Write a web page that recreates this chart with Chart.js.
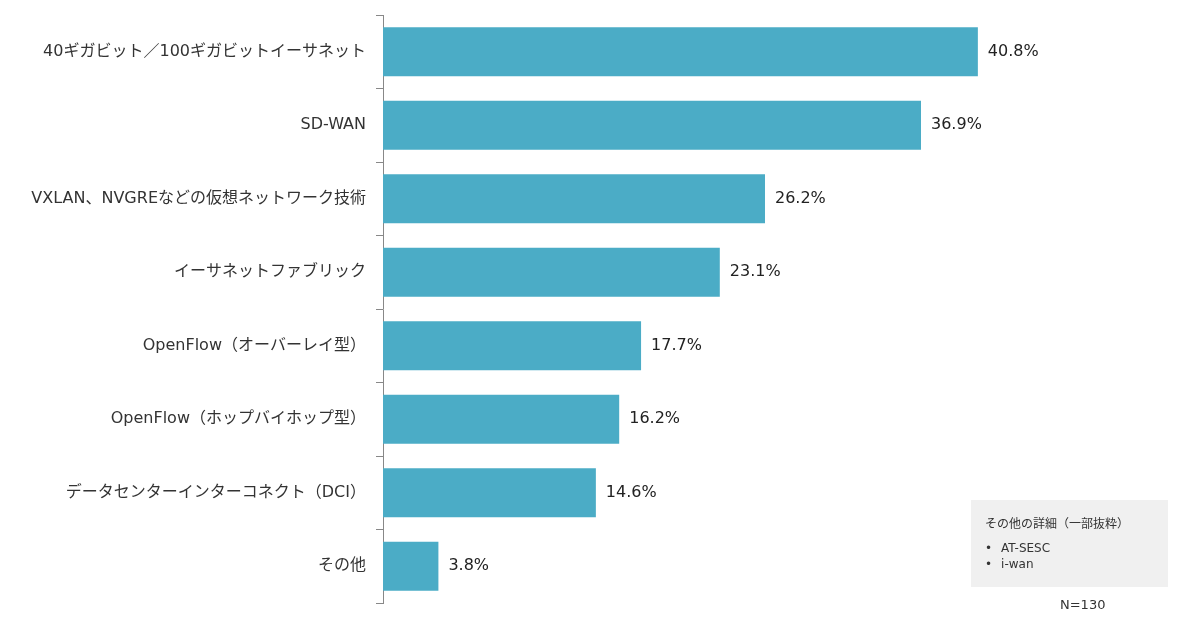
<!DOCTYPE html>
<html lang="ja">
<head>
<meta charset="utf-8">
<script src="https://cdn.jsdelivr.net/npm/chart.js@4.4.1/dist/chart.umd.min.js"></script>
<style>
  html, body { margin: 0; padding: 0; background: #fff; }
  #wrap { position: relative; width: 1200px; height: 632px; font-family: "DejaVu Sans", "Noto Sans CJK JP", sans-serif; color: #333; }
  #note { position: absolute; left: 971px; top: 500px; width: 197px; height: 87px; background: #f0f0f0; font-size: 12px; }
  #note .ttl { position: absolute; left: 14px; top: 14px; }
  #note ul { position: absolute; left: 14px; top: 40px; margin: 0; padding: 0; list-style: none; line-height: 16px; }
  #note li::before { content: "•"; margin-right: 9px; }
  #n { position: absolute; left: 1060px; top: 597px; font-size: 13px; }
</style>
</head>
<body>
<div id="wrap">
  <canvas id="chart" width="1200" height="632"></canvas>
  <div id="note">
    <div class="ttl">その他の詳細（一部抜粋）</div>
    <ul><li>AT-SESC</li><li>i-wan</li></ul>
  </div>
  <div id="n">N=130</div>
</div>
<script>
// 回答項目
const categories = [
  '40ギガビット／100ギガビットイーサネット',
  'SD-WAN',
  'VXLAN、NVGREなどの仮想ネットワーク技術',
  'イーサネットファブリック',
  'OpenFlow（オーバーレイ型）',
  'OpenFlow（ホップバイホップ型）',
  'データセンターインターコネクト（DCI）',
  'その他'
];
// 割合（%）
const values = [40.8, 36.9, 26.2, 23.1, 17.7, 16.2, 14.6, 3.8];

const barColor = '#4bacc6';
const fontFamily = '"DejaVu Sans", "Noto Sans CJK JP", sans-serif';

// バーの右に値ラベルを描く
const valueLabels = {
  id: 'valueLabels',
  afterDatasetsDraw(chart) {
    const ctx = chart.ctx;
    const meta = chart.getDatasetMeta(0);
    ctx.save();
    ctx.font = '16px ' + fontFamily;
    ctx.fillStyle = '#222';
    ctx.textAlign = 'left';
    ctx.textBaseline = 'middle';
    meta.data.forEach((bar, i) => {
      ctx.fillText(values[i].toFixed(1) + '%', bar.x + 10, bar.y);
    });
    ctx.restore();
  }
};

new Chart(document.getElementById('chart'), {
  type: 'bar',
  data: {
    labels: categories,
    datasets: [{
      data: values,
      backgroundColor: barColor,
      borderWidth: 0,
      barPercentage: 0.67,
      categoryPercentage: 1
    }]
  },
  options: {
    indexAxis: 'y',
    responsive: false,
    animation: false,
    layout: { padding: { top: 15, bottom: 29, left: 0, right: 88 } },
    plugins: { legend: { display: false }, tooltip: { enabled: false } },
    scales: {
      x: { display: false, min: 0, max: 50 },
      y: {
        afterFit(axis) {
          axis.width = 383;
          axis.paddingTop = 0;
          axis.paddingBottom = 0;
        },
        grid: { offset: true, drawOnChartArea: false, tickLength: 7, color: '#888' },
        border: { color: '#888', width: 1 },
        ticks: {
          color: '#333',
          padding: 10,
          font: { family: fontFamily, size: 16 }
        }
      }
    }
  },
  plugins: [valueLabels]
});
</script>
</body>
</html>
